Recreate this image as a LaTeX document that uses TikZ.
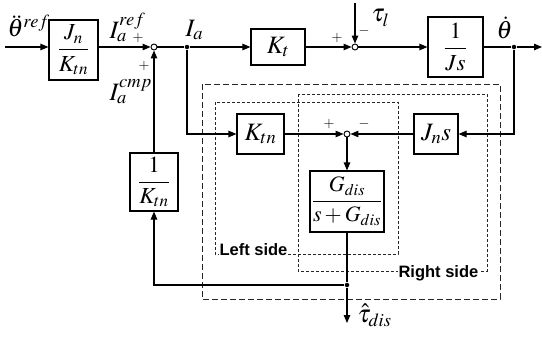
\documentclass[tikz,border=0pt]{standalone}
\usepackage{mathptmx}
\usepackage{fontspec}
\setmainfont{Liberation Serif}
\newfontfamily\labfont{Liberation Sans}
\usetikzlibrary{arrows.meta}
\begin{document}
\begin{tikzpicture}[x=1pt,y=-1pt,line width=1.1pt,
  >={Triangle[length=8pt,width=6.5pt]},
  blk/.style={draw,inner sep=0pt,line width=1.1pt,font=\fontsize{25}{28}\selectfont},
  sum/.style={circle,draw,fill=white,minimum size=6pt,inner sep=0pt,line width=0.9pt},
  jdot/.style={circle,fill,minimum size=4.5pt,inner sep=0pt},
  lbl/.style={anchor=base west,inner sep=0pt,font=\fontsize{25}{28}\selectfont},
  sgn/.style={inner sep=0pt,font=\fontsize{14}{14}\selectfont},
  sidelbl/.style={anchor=base west,fill=white,inner sep=1pt,font=\labfont\bfseries\fontsize{16.5}{17}\selectfont},
  longdash/.style={draw=black!85,line width=0.8pt,dash pattern=on 6pt off 3pt},
  shortdash/.style={draw=black!85,line width=0.8pt,dash pattern=on 3pt off 2pt}]
\useasboundingbox (0,0) rectangle (542,340);

% dashed groupings
\draw[longdash] (202,84) rectangle (500,299);
\draw[shortdash] (215,102) rectangle (398,254);
\draw[shortdash] (298,94) rectangle (487,271);

% blocks
\node[blk,minimum width=49pt,minimum height=60pt,font=\fontsize{23}{26}\selectfont] (b1) at (73.5,50) {$\displaystyle\frac{J_n}{K_{tn}}$};
\node[blk,minimum width=54pt,minimum height=36pt] (bKt) at (278,47) {$K_t$};
\node[blk,minimum width=55pt,minimum height=60pt,font=\fontsize{23}{26}\selectfont] (bJs) at (455.5,47) {$\displaystyle\frac{\;1\;}{Js}$};
\node[blk,minimum width=44pt,minimum height=40pt] (bJns) at (436,134) {$J_n s$};
\node[blk,minimum width=47pt,minimum height=40pt] (bKtn) at (260.5,134) {$K_{tn}$};
\node[blk,minimum width=74pt,minimum height=61pt,font=\fontsize{22}{26}\selectfont] (bG) at (347,201.5) {$\displaystyle\frac{G_{dis}}{s+G_{dis}}$};
\node[blk,minimum width=48pt,minimum height=58pt,font=\fontsize{23}{26}\selectfont] (bInv) at (154,182) {$\displaystyle\frac{\;1\;}{K_{tn}}$};

% summing points and junctions
\node[sum] (s1) at (154,47) {};
\node[sum] (s2) at (355,47) {};
\node[sum] (s3) at (347,134) {};
\node[jdot] (jIa) at (187,47) {};
\node[jdot] (jth) at (514,47) {};
\node[jdot] (jd) at (347,285) {};
\coordinate (inp) at (5,47);
\coordinate (taut) at (355,3);
\coordinate (outp) at (542,47);
\coordinate (tauo) at (347,323);

% connectors
\draw[->] (inp) -- (inp -| b1.west);
\draw[->] (b1.east |- s1) -- (s1.west);
\draw (s1.east) -- (jIa);
\draw[->] (jIa) -- (bKt.west);
\draw[->] (bKt.east) -- (s2.west);
\draw[->] (taut) -- (s2.north);
\draw[->] (s2.east) -- (bJs.west |- s2);
\draw (bJs.east |- s2) -- (jth);
\draw[->] (jth) -- (outp);
\draw[->] (jth) |- (bJns.east);
\draw[->] (bJns.west) -- (s3.east);
\draw[->] (jIa) |- (bKtn.west);
\draw[->] (bKtn.east) -- (s3.west);
\draw[->] (s3.south) -- (bG.north);
\draw (bG.south) -- (jd);
\draw[->] (jd) -- (tauo);
\draw[->] (jd) -| (bInv.south);
\draw[->] (bInv.north) -- (s1.south);

% signal labels
\node[lbl] (lth) at (7,37) {$\ddot{\theta}^{ref}$};
\node[lbl] (lIref) at (109,38) {$I_a^{ref}$};
\node[lbl] (lIcmp) at (109,100) {$I_a^{cmp}$};
\node[lbl] (lIa) at (185,36) {$I_a$};
\node[lbl] (ltl) at (371,22) {$\tau_l$};
\node[lbl] (lthd) at (496,38) {$\dot{\theta}$};
\node[lbl] (ltd) at (357,322) {$\hat{\tau}_{dis}$};

% signs
\node[sgn] (p1) at (138,38) {$+$};
\node[sgn] (p2) at (144,66) {$+$};
\node[sgn] (p3) at (337,38) {$+$};
\node[sgn] (m3) at (364,31) {$-$};
\node[sgn] (p4) at (329,124) {$+$};
\node[sgn] (m4) at (364,124) {$-$};

% group labels
\node[sidelbl] (ls) at (218,255) {Left side};
\node[sidelbl] (rs) at (397,277) {Right side};
\end{tikzpicture}
\end{document}
